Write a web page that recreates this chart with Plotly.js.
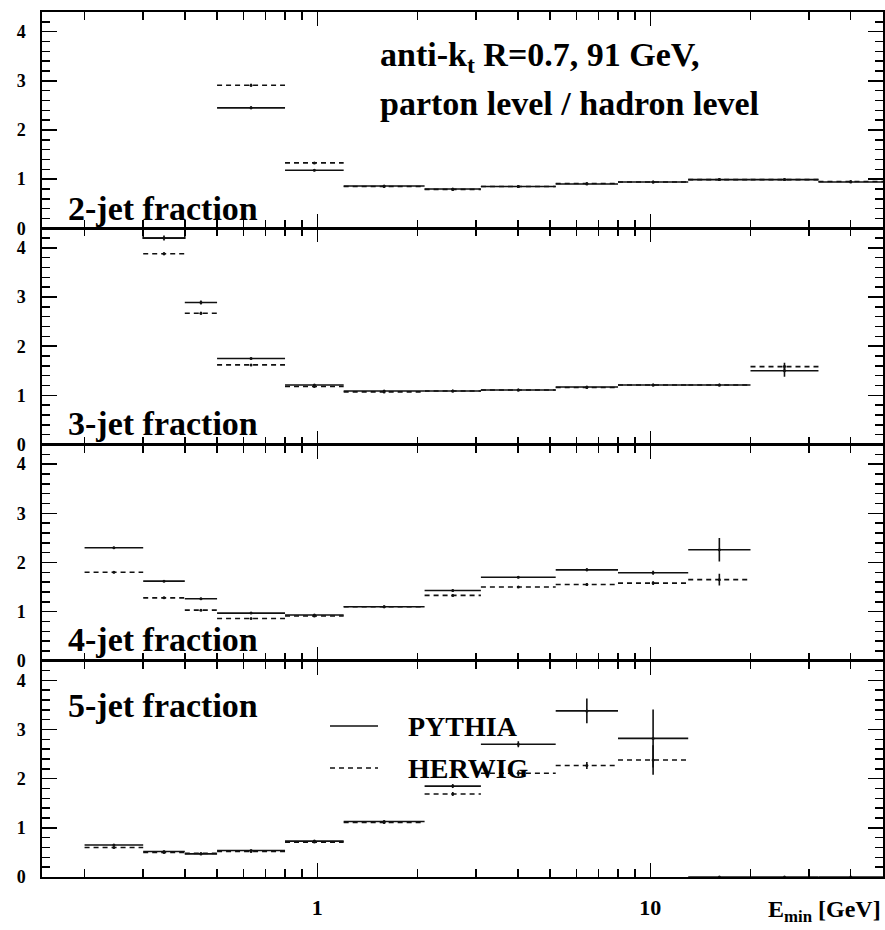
<!DOCTYPE html>
<html>
<head>
<meta charset="utf-8">
<script src="https://cdn.plot.ly/plotly-3.0.1.min.js"></script>
<style>
  html, body { margin: 0; padding: 0; background: #fff; }
  #chart { width: 885px; height: 930px; }
</style>
</head>
<body>
<div id="chart"></div>
<script>
// E_min bin edges in GeV (13 bins)
const binEdges = [0.2, 0.3, 0.4, 0.5, 0.8, 1.2, 2.1, 3.1, 5.2, 8, 13, 20, 32, 50];

const panelLabels = ['2-jet fraction', '3-jet fraction', '4-jet fraction', '5-jet fraction'];
const xTickVals = [1, 10];
const xTickText = ['1', '10'];
const yTickVals = [0, 1, 2, 3, 4];

// parton level / hadron level ratio per bin (null = off scale)
const pythia2 = [null, null, null, 2.45, 1.18, 0.86, 0.80, 0.85, 0.90, 0.94, 0.99, 0.99, 0.94];
const herwig2 = [null, null, null, 2.91, 1.33, 0.85, 0.79, 0.85, 0.91, 0.94, 0.99, 0.99, 0.95];
const pythiaErr2 = [0, 0, 0, 0.03, 0.02, 0.01, 0.01, 0.01, 0.01, 0.01, 0.01, 0.01, 0.01];
const herwigErr2 = [0, 0, 0, 0.03, 0.02, 0.01, 0.01, 0.01, 0.01, 0.01, 0.01, 0.01, 0.01];

const pythia3 = [null, 4.20, 2.89, 1.75, 1.21, 1.09, 1.09, 1.11, 1.17, 1.21, 1.21, 1.50, null];
const herwig3 = [null, 3.88, 2.67, 1.62, 1.18, 1.07, 1.09, 1.11, 1.16, 1.21, 1.21, 1.585, null];
const pythiaErr3 = [0, 0.05, 0.04, 0.02, 0.01, 0.01, 0.01, 0.01, 0.01, 0.01, 0.01, 0.12, 0];
const herwigErr3 = [0, 0.03, 0.03, 0.02, 0.01, 0.01, 0.01, 0.01, 0.01, 0.01, 0.01, 0.08, 0];

const pythia4 = [2.30, 1.62, 1.26, 0.97, 0.93, 1.10, 1.43, 1.70, 1.85, 1.79, 2.26, null, null];
const herwig4 = [1.80, 1.28, 1.03, 0.86, 0.91, 1.10, 1.33, 1.50, 1.55, 1.58, 1.65, null, null];
const pythiaErr4 = [0.02, 0.02, 0.02, 0.01, 0.01, 0.01, 0.02, 0.02, 0.03, 0.04, 0.24, 0, 0];
const herwigErr4 = [0.02, 0.02, 0.02, 0.01, 0.01, 0.01, 0.02, 0.02, 0.03, 0.04, 0.12, 0, 0];

const pythia5 = [0.65, 0.52, 0.47, 0.54, 0.73, 1.13, 1.85, 2.70, 3.38, 2.82, 0, 0, 0];
const herwig5 = [0.60, 0.50, 0.48, 0.52, 0.71, 1.11, 1.69, 2.11, 2.27, 2.38, null, null, null];
const pythiaErr5 = [0.01, 0.01, 0.01, 0.01, 0.01, 0.02, 0.04, 0.06, 0.25, 0.59, 0, 0, 0];
const herwigErr5 = [0.01, 0.01, 0.01, 0.01, 0.01, 0.02, 0.04, 0.06, 0.07, 0.30, 0, 0, 0];

const pythiaPanels = [pythia2, pythia3, pythia4, pythia5];
const herwigPanels = [herwig2, herwig3, herwig4, herwig5];
const pythiaErrs = [pythiaErr2, pythiaErr3, pythiaErr4, pythiaErr5];
const herwigErrs = [herwigErr2, herwigErr3, herwigErr4, herwigErr5];

const yMax = 4.4;
const ink = '#111';
const serif = 'Liberation Serif, Times New Roman, serif';
const pythiaLine = { color: ink, width: 1.6, dash: 'solid' };
const herwigLine = { color: ink, width: 1.6, dash: '5px,4px' };

// horizontal histogram steps, one segment per bin
function steps(vals) {
  const x = [], y = [];
  vals.forEach((v, i) => {
    if (v === null) return;
    x.push(binEdges[i], binEdges[i + 1], null);
    y.push(v, v, null);
  });
  return { x, y };
}
function centers(vals) {
  const x = [], y = [], idx = [];
  vals.forEach((v, i) => {
    if (v === null) return;
    x.push(Math.sqrt(binEdges[i] * binEdges[i + 1]));
    y.push(v);
    idx.push(i);
  });
  return { x, y, idx };
}

const traces = [];
for (let p = 0; p < 4; p++) {
  const xa = p === 0 ? 'x' : 'x' + (p + 1);
  const ya = p === 0 ? 'y' : 'y' + (p + 1);
  [[pythiaPanels[p], pythiaErrs[p], pythiaLine, 'PYTHIA'],
   [herwigPanels[p], herwigErrs[p], herwigLine, 'HERWIG']].forEach(([vals, errs, line, name]) => {
    const s = steps(vals);
    traces.push({ type: 'scatter', mode: 'lines', x: s.x, y: s.y, xaxis: xa, yaxis: ya,
      line: line, name: name, showlegend: false, hoverinfo: 'skip', cliponaxis: true });
    const c = centers(vals);
    traces.push({ type: 'scatter', mode: 'markers', x: c.x, y: c.y, xaxis: xa, yaxis: ya,
      marker: { size: 3, color: ink }, showlegend: false, hoverinfo: 'skip',
      error_y: { type: 'data', array: c.idx.map(i => errs[i]), visible: true,
                 color: ink, thickness: 1.6, width: 0 } });
  });
}
// the 3-jet PYTHIA bin at 0.3-0.4 GeV is drawn open towards the frame top
traces.push({ type: 'scatter', mode: 'lines', xaxis: 'x2', yaxis: 'y2',
  x: [binEdges[1], binEdges[1], binEdges[2], binEdges[2]],
  y: [yMax, pythia3[1], pythia3[1], yMax],
  line: pythiaLine, showlegend: false, hoverinfo: 'skip' });

// layout geometry (pixels)
const W = 885, H = 930;
const mL = 42, mR = 2, mT = 12, mB = 53;
const plotW = W - mL - mR, plotH = H - mT - mB;
const px2x = px => (px - mL) / plotW;
const py2y = py => (H - mB - py) / plotH;

const minorX = [];
[0.1, 1, 10].forEach(d => { for (let k = 2; k <= 9; k++) { const v = k * d; if (v > 0.149 && v < 50) minorX.push(v); } });

const layout = {
  width: W, height: H,
  margin: { l: mL, r: mR, t: mT, b: mB },
  paper_bgcolor: '#fff', plot_bgcolor: '#fff',
  showlegend: false,
  font: { family: serif, color: '#000', size: 20, weight: 'bold' },
  annotations: [], shapes: []
};

for (let p = 0; p < 4; p++) {
  const suffix = p === 0 ? '' : String(p + 1);
  const top = 1 - p * 0.25, bottom = 1 - (p + 1) * 0.25;
  const isBottom = p === 3;
  const xa = {
    type: 'log', range: [Math.log10(0.149), Math.log10(50)],
    domain: [0, 1], anchor: 'y' + suffix,
    showline: true, linecolor: '#000', linewidth: 1.6, mirror: 'ticks',
    ticks: 'inside', ticklen: 14, tickwidth: 1.5, tickcolor: '#000',
    tickmode: 'array', tickvals: xTickVals,
    showticklabels: isBottom,
    minor: { tickmode: 'array', tickvals: minorX, ticks: 'inside', ticklen: 8,
             tickwidth: 1.5, tickcolor: '#000', showgrid: false },
    showgrid: false, zeroline: false, fixedrange: true
  };
  if (p > 0) xa.matches = 'x';
  if (isBottom) {
    xa.ticktext = xTickText;
    xa.ticklabelstandoff = 10;
    xa.tickfont = { family: serif, size: 22, weight: 'bold', color: '#000' };
  }
  layout['xaxis' + suffix] = xa;
  layout['yaxis' + suffix] = {
    range: [0, yMax], domain: [bottom, top], anchor: 'x' + suffix,
    showline: true, linecolor: '#000', linewidth: 1.6, mirror: 'ticks',
    ticks: 'inside', ticklen: 15, tickwidth: 1.5, tickcolor: '#000',
    tickmode: 'array', tickvals: yTickVals,
    ticklabelstandoff: 11,
    tickfont: { family: serif, size: 18, weight: 'bold', color: '#000' },
    minor: { dtick: 0.2, ticks: 'inside', ticklen: 8, tickwidth: 1.5,
             tickcolor: '#000', showgrid: false },
    showgrid: false, zeroline: false, fixedrange: true
  };
}

const labelY = [208, 423, 639, 705];
panelLabels.forEach((t, p) => {
  layout.annotations.push({ text: '<b>' + t + '</b>', xref: 'paper', yref: 'paper',
    x: px2x(66), y: py2y(labelY[p]), xanchor: 'left', yanchor: 'middle', showarrow: false,
    font: { family: serif, size: 34, color: '#000' } });
});

// header text
layout.annotations.push({ text: '<b>anti-k<sub>t</sub> R=0.7, 91 GeV,</b>', xref: 'paper', yref: 'paper',
  x: px2x(378), y: py2y(57), xanchor: 'left', yanchor: 'middle', showarrow: false,
  font: { family: serif, size: 34, color: '#000' } });
layout.annotations.push({ text: '<b>parton level / hadron level</b>', xref: 'paper', yref: 'paper',
  x: px2x(378), y: py2y(103), xanchor: 'left', yanchor: 'middle', showarrow: false,
  font: { family: serif, size: 34, color: '#000' } });

// key in the 5-jet panel
const keyRows = [['PYTHIA', pythiaLine, 726], ['HERWIG', herwigLine, 768]];
keyRows.forEach(([name, line, py]) => {
  layout.shapes.push({ type: 'line', xref: 'paper', yref: 'paper',
    x0: px2x(330), x1: px2x(378), y0: py2y(py), y1: py2y(py), line: line });
  layout.annotations.push({ text: '<b>' + name + '</b>', xref: 'paper', yref: 'paper',
    x: px2x(406), y: py2y(py), xanchor: 'left', yanchor: 'middle', showarrow: false,
    font: { family: serif, size: 28, color: '#000' } });
});

// x axis title
layout.annotations.push({ text: '<b>E<sub>min</sub> [GeV]</b>', xref: 'paper', yref: 'paper',
  x: 1, y: py2y(911), xanchor: 'right', yanchor: 'middle', showarrow: false,
  font: { family: serif, size: 24, color: '#000' } });

Plotly.newPlot('chart', traces, layout, { staticPlot: true, displayModeBar: false });
</script>
</body>
</html>
